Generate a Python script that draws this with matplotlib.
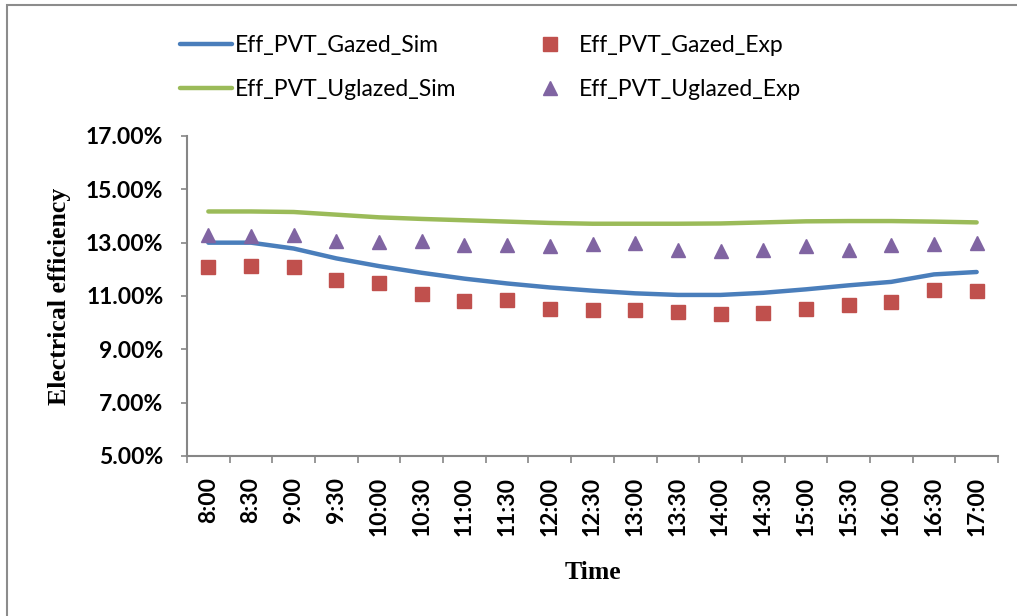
import numpy as np
import matplotlib.pyplot as plt
from matplotlib.patches import Rectangle

# time of day (half-hour steps)
times = ["8:00", "8:30", "9:00", "9:30", "10:00", "10:30", "11:00", "11:30", "12:00",
         "12:30", "13:00", "13:30", "14:00", "14:30", "15:00", "15:30", "16:00", "16:30", "17:00"]

# efficiencies in %
glazed_sim = [13.00, 13.00, 12.78, 12.41, 12.12, 11.87, 11.65, 11.47, 11.32, 11.20,
              11.10, 11.04, 11.04, 11.12, 11.25, 11.40, 11.53, 11.81, 11.90]
glazed_exp = [12.10, 12.12, 12.08, 11.59, 11.47, 11.09, 10.80, 10.86, 10.53, 10.49,
              10.48, 10.41, 10.32, 10.38, 10.50, 10.67, 10.76, 11.21, 11.18]
unglazed_sim = [14.17, 14.17, 14.15, 14.05, 13.95, 13.89, 13.84, 13.79, 13.74, 13.71,
                13.71, 13.71, 13.72, 13.76, 13.80, 13.81, 13.81, 13.79, 13.76]
unglazed_exp = [13.28, 13.24, 13.27, 13.08, 13.04, 13.07, 12.90, 12.92, 12.89, 12.94,
                12.99, 12.73, 12.67, 12.71, 12.86, 12.71, 12.92, 12.95, 13.00]

yticks = [5, 7, 9, 11, 13, 15, 17]

blue = "#4A7EBB"
red = "#C0504D"
green = "#9BBB59"
purple = "#8064A2"
axis_grey = "#868686"

fig = plt.figure(figsize=(10.17, 6.16), dpi=100)
ax = fig.add_axes([187 / 1017, 1 - 456 / 616, 811 / 1017, 320 / 616])

# outer chart frame
fig.patches.append(Rectangle((7 / 1017, -0.05), 1.1, 1 - 5 / 616 + 0.05, transform=fig.transFigure,
                             fill=False, edgecolor="#8C8C8C", linewidth=1.5))

x = np.arange(len(times))
l1, = ax.plot(x, glazed_sim, color=blue, lw=3.2, solid_capstyle="round", label="Eff_PVT_Gazed_Sim")
l2, = ax.plot(x, glazed_exp, ls="none", marker="s", ms=10, color=red, label="Eff_PVT_Gazed_Exp")
l3, = ax.plot(x, unglazed_sim, color=green, lw=3.2, solid_capstyle="round", label="Eff_PVT_Uglazed_Sim")
l4, = ax.plot(x, unglazed_exp, ls="none", marker="^", ms=10, color=purple, label="Eff_PVT_Uglazed_Exp")

ax.set_xlim(-0.5, len(times) - 0.5)
ax.set_ylim(5, 17)

for s in ["top", "right"]:
    ax.spines[s].set_visible(False)
for s in ["left", "bottom"]:
    ax.spines[s].set_color(axis_grey)
    ax.spines[s].set_linewidth(1.5)

ax.set_yticks(yticks)
ax.set_yticklabels([f"{v:.2f}%" for v in yticks], fontfamily="Lato", fontweight="bold", fontsize=16.5)
ax.tick_params(axis="y", length=4, width=1.2, color=axis_grey, pad=13)

ax.set_xticks(x)
ax.set_xticklabels(times, rotation=90, fontfamily="Lato", fontweight="bold", fontsize=16.5, va="top")
ax.set_xticks(np.arange(-0.5, len(times)), minor=True)
ax.tick_params(axis="x", which="major", length=0, pad=15)
ax.tick_params(axis="x", which="minor", length=5, width=1.2, color=axis_grey)

ax.set_ylabel("Electrical efficiency", fontfamily="Liberation Serif", fontweight="bold", fontsize=18.5, labelpad=11)
ax.set_xlabel("Time", fontfamily="Liberation Serif", fontweight="bold", fontsize=18.5, labelpad=18)

# legend: row 1 glazed, row 2 unglazed
fig.legend(handles=[l1, l3, l2, l4], ncol=2, loc="upper left", bbox_to_anchor=(159 / 1017, 1 - 14 / 616),
           frameon=False, prop={"family": "Lato", "size": 16.5}, handlelength=2.3, handletextpad=0.1,
           columnspacing=2.95, labelspacing=1.0)

fig.savefig("out.png", dpi=100)
